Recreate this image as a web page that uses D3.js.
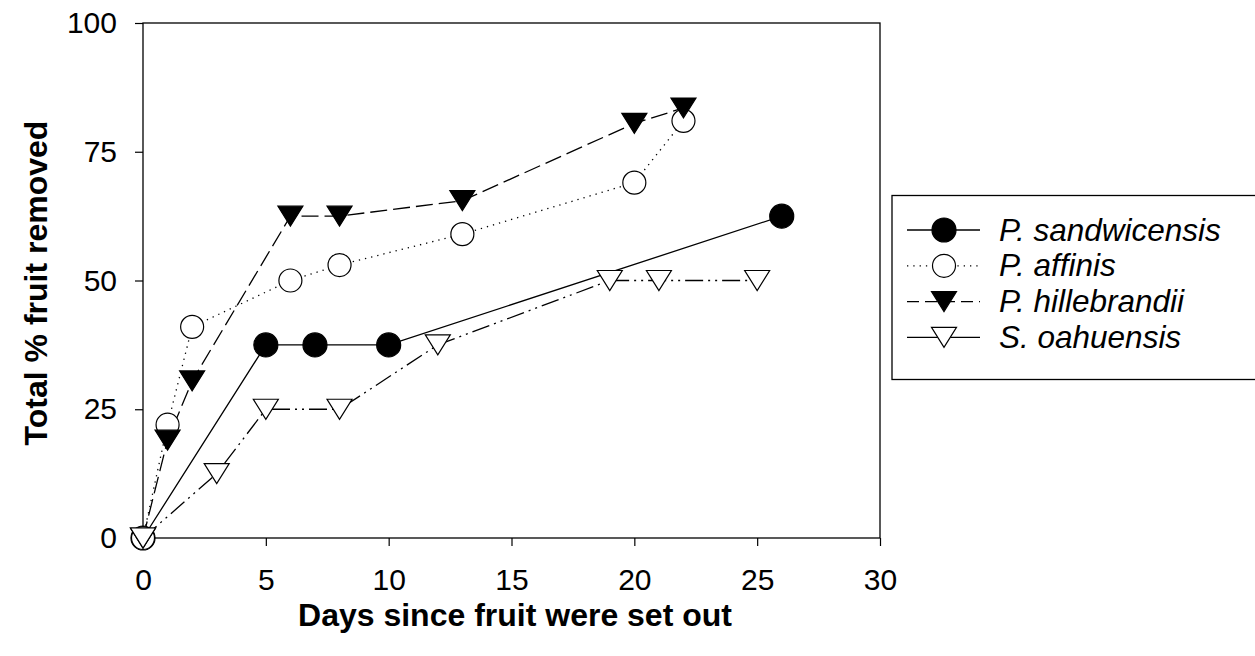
<!DOCTYPE html>
<html>
<head>
<meta charset="utf-8">
<script src="https://cdn.jsdelivr.net/npm/d3@7.9.0/dist/d3.min.js"></script>
<style>
  body { margin: 0; background: #fff; }
  text { font-family: "Liberation Sans", Arial, sans-serif; fill: #000; }
</style>
</head>
<body>
<svg id="chart" width="1255" height="656"></svg>
<script>
// days and % removed for each species
const sandDays = [0, 5, 7, 10, 26];
const sandVals = [0, 37.5, 37.5, 37.5, 62.5];
const affDays = [0, 1, 2, 6, 8, 13, 20, 22];
const affVals = [0, 22, 41, 50, 53, 59, 69, 81];
const hillDays = [0, 1, 2, 6, 8, 13, 20, 22];
const hillVals = [0, 19, 30.5, 62.5, 62.5, 65.5, 80.5, 83.5];
const oahDays = [0, 3, 5, 8, 12, 19, 21, 25];
const oahVals = [0, 12.5, 25, 25, 37.5, 50, 50, 50];

const xTicks = [0, 5, 10, 15, 20, 25, 30];
const yTicks = [0, 25, 50, 75, 100];

const series = [
  { name: 'P. sandwicensis', days: sandDays, vals: sandVals, marker: 'circle', fill: '#000', dash: null },
  { name: 'P. affinis', days: affDays, vals: affVals, marker: 'circle', fill: '#fff', dash: '1.3,5' },
  { name: 'P. hillebrandii', days: hillDays, vals: hillVals, marker: 'tri', fill: '#000', dash: '17,6' },
  { name: 'S. oahuensis', days: oahDays, vals: oahVals, marker: 'tri', fill: '#fff', dash: '18,5,2,5,2,5' }
];

const svg = d3.select('#chart');
const plotL = 143, plotR = 880, plotT = 23, plotB = 538;

const x = d3.scaleLinear().domain([0, 30]).range([plotL, plotR]);
const y = d3.scaleLinear().domain([0, 100]).range([plotB, plotT]);

// frame
svg.append('rect')
  .attr('x', plotL).attr('y', plotT)
  .attr('width', plotR - plotL).attr('height', plotB - plotT)
  .attr('fill', 'none').attr('stroke', '#000').attr('stroke-width', 1.3);

const xAxis = svg.append('g')
  .attr('transform', `translate(0,${plotB})`)
  .call(d3.axisBottom(x).tickValues(xTicks).tickSize(8).tickPadding(23));
const yAxis = svg.append('g')
  .attr('transform', `translate(${plotL},0)`)
  .call(d3.axisLeft(y).tickValues(yTicks).tickSize(8).tickPadding(18));

[xAxis, yAxis].forEach(g => {
  g.select('.domain').remove();
  g.selectAll('line').attr('stroke', '#000').attr('stroke-width', 1.2);
  g.selectAll('text').style('font-size', '30px').style('font-family', '"Liberation Sans", Arial, sans-serif');
});

svg.append('text')
  .attr('x', 515).attr('y', 626)
  .attr('text-anchor', 'middle')
  .style('font-size', '32px').style('font-weight', 'bold')
  .text('Days since fruit were set out');

svg.append('text')
  .attr('transform', `translate(47,283) rotate(-90)`)
  .attr('text-anchor', 'middle')
  .style('font-size', '32px').style('font-weight', 'bold')
  .text('Total % fruit removed');

const drawMarker = (g, s, cx, cy) => {
  if (s.marker === 'circle') {
    g.append('circle')
      .attr('cx', cx).attr('cy', cy)
      .attr('r', s.fill === '#000' ? 12 : 11.5)
      .attr('fill', s.fill).attr('stroke', '#000').attr('stroke-width', 1.2);
  } else {
    g.append('path')
      .attr('d', 'M-12.5,-10L12.5,-10L0,10Z')
      .attr('transform', `translate(${cx},${cy})`)
      .attr('fill', s.fill).attr('stroke', '#000').attr('stroke-width', 1.2);
  }
};

const line = d3.line().x(d => x(d[0])).y(d => y(d[1]));

series.forEach(s => {
  const pts = s.days.map((d, i) => [d, s.vals[i]]);
  svg.append('path')
    .attr('d', line(pts))
    .attr('fill', 'none').attr('stroke', '#000').attr('stroke-width', 1.3)
    .attr('stroke-dasharray', s.dash);
});

series.forEach(s => {
  const g = svg.append('g');
  s.days.forEach((d, i) => drawMarker(g, s, x(d), y(s.vals[i])));
});

// legend
const lg = svg.append('g');
lg.append('rect')
  .attr('x', 892).attr('y', 195.5)
  .attr('width', 400).attr('height', 184)
  .attr('fill', '#fff').attr('stroke', '#000').attr('stroke-width', 1.3);

const legDash = [null, '1.3,5', '12,6', null];
series.forEach((s, i) => {
  const cy = 230 + i * 35.8;
  lg.append('line')
    .attr('x1', 907).attr('x2', 980).attr('y1', cy).attr('y2', cy)
    .attr('stroke', '#000').attr('stroke-width', 1.3)
    .attr('stroke-dasharray', legDash[i]);
  drawMarker(lg, s, 944, cy);
  lg.append('text')
    .attr('x', 999).attr('y', cy + 10.5)
    .style('font-size', '31.5px').style('font-style', 'italic')
    .text(s.name);
});
</script>
</body>
</html>
